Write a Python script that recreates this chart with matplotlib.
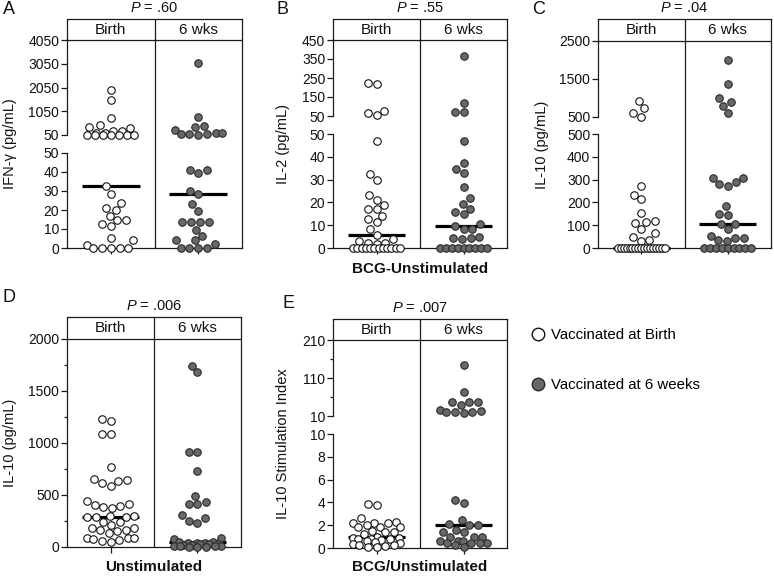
import matplotlib.pyplot as plt
from matplotlib.lines import Line2D
import numpy as np

plt.rcParams['font.family'] = ['Liberation Sans', 'DejaVu Sans']
plt.rcParams['mathtext.fontset'] = 'custom'
plt.rcParams['mathtext.it'] = 'Liberation Sans:italic'
plt.rcParams['mathtext.rm'] = 'Liberation Sans'

W, H = 774, 578
fig = plt.figure(figsize=(W / 100, H / 100), dpi=100)

groups = ['Birth', '6 wks']

# values (pg/mL or index)
a_birth = [1945, 1524, 780, 470, 390, 345, 230, 150, 130, 200, 55, 55, 55, 55, 55, 55, 55,
           32.6, 28.6, 23.7, 20.2, 20.9, 16.8, 14.6, 14.6, 11.6, 12.8, 5.1, 4.0, 1.7, 0, 0, 0, 0, 0]
a_6wk = [3100, 795, 430, 260, 370, 120, 80, 55, 100, 80, 120,
         41, 39.6, 41, 30.2, 28.6, 23, 19.5, 13.9, 13.6, 13.8, 13.9, 9.6, 6.5, 4.2, 4, 2, 0, 0, 0, 0]

b_birth = [217, 225, 67, 55, 76,
           46.9, 32.5, 29.7, 23.2, 21.2, 17.1, 17.1, 19, 14.2, 12.7, 11.3, 8.5, 5.9, 4.1, 3.2, 2, 1.8, 2,
           0, 0, 0, 0, 0, 0, 0, 0, 0, 0, 0, 0]
b_6wk = [364, 120, 73, 73,
         46.9, 37.4, 34.8, 33, 26.6, 21.8, 19.3, 17.2, 15.8, 14.8, 9.6, 10.4, 8.2, 8.2, 4.5, 4.3, 5, 3.8,
         0, 0, 0, 0, 0, 0, 0, 0, 0]

c_birth = [921, 729, 613, 510,
           272, 234, 215, 155, 120, 111, 115, 83, 64, 48, 35, 31,
           0, 0, 0, 0, 0, 0, 0, 0, 0, 0, 0, 0, 0, 0, 0, 0, 0]
c_6wk = [2008, 1360, 992, 887, 797, 597,
         308, 308, 288, 279, 272, 184, 146, 149, 107, 107, 85, 35, 45, 44, 53, 31,
         0, 0, 0, 0, 0, 0, 0, 0, 0]

d_birth = [1232, 1216, 1088, 1088, 771, 653, 643, 630, 611, 586, 447, 416, 406, 394, 387, 377,
           296, 294, 292, 290, 288, 240, 236, 210, 184, 182, 166, 160, 150, 134,
           90, 83, 83, 77, 67, 58, 51]
d_6wk = [1744, 1680, 915, 915, 726, 490, 432, 409, 409, 307, 278, 252, 230, 85, 80, 45, 45,
         40, 38, 35, 32, 30, 25, 20, 15, 12, 10, 8, 6, 4, 2, 0]

e_birth = [3.9, 3.8, 2.6, 2.3, 2.2, 2.2, 2.2, 2.0, 1.85, 1.8, 1.8, 1.45, 1.4, 1.4, 1.2, 0.95,
           0.9, 0.85, 0.8, 0.8, 0.75, 0.7, 0.6, 0.5, 0.4, 0.35, 0.3, 0.3, 0.2, 0.1, 0.05]
e_6wk = [143, 72, 47, 40, 47, 48, 22, 20, 18, 26, 20, 21,
         4.17, 3.99, 2.44, 2.1, 2.06, 2.02, 1.6, 1.41, 1.38, 1.0, 0.98, 0.95, 0.65, 0.62, 0.6,
         0.47, 0.45, 0.42, 0.45, 0.3, 0.05]

line_c = '#1a1a1a'
lw = 0.9
open_style = dict(marker='o', ms=5.4, mfc='white', mec='#111111', mew=0.8, ls='none')
fill_style = dict(marker='o', ms=5.4, mfc='#686868', mec='#2a2a2a', mew=0.8, ls='none')


def fx(px):
    return px / W


def fy(py):
    return 1 - py / H


def swarm(ys, d, lim, tie_span):
    # horizontal offsets in pixels, GraphPad-like scatter
    n = len(ys)
    xs = np.zeros(n)
    placed = []
    uniq, counts = np.unique(ys, return_counts=True)
    for u, c in zip(uniq, counts):
        if c >= 5:
            idx = np.where(ys == u)[0]
            s = min(d, 2 * tie_span / (c - 1))
            xs[idx] = (np.arange(c) - (c - 1) / 2) * s
            placed += list(idx)
    rest = [i for i in np.argsort(ys, kind='stable') if i not in placed]
    for i in rest:
        y = ys[i]
        cands = [0.0, -lim, lim]
        for j in placed:
            dy = y - ys[j]
            if abs(dy) < d:
                dx = np.sqrt(d * d - dy * dy)
                cands += [xs[j] - dx, xs[j] + dx]
        cands = sorted([c for c in cands if abs(c) <= lim + 1e-9], key=abs)

        def mind(c):
            if not placed:
                return 1e9
            return min(np.hypot(c - xs[j], y - ys[j]) for j in placed)

        best = None
        for c in cands:
            if mind(c) >= d - 1e-6:
                best = c
                break
        if best is None:
            best = max(cands, key=mind)
        xs[i] = best
        placed.append(i)
    return xs


def make_panel(spec, birth, wk6):
    x0, x1 = spec['x']
    hdr, top, bot = spec['hdr'], spec['top'], spec['bot']
    frame = fig.add_axes([fx(x0), fy(bot), fx(x1) - fx(x0), fy(hdr) - fy(bot)])
    frame.set_xlim(0, 2)
    frame.set_ylim(0, 1)
    frame.set_xticks([])
    frame.set_yticks([])
    frame.patch.set_alpha(0)
    frame.spines['left'].set_visible(False)
    for s in ['top', 'right', 'bottom']:
        frame.spines[s].set_linewidth(lw)
        frame.spines[s].set_color(line_c)
    hb = (bot - top) / (bot - hdr)
    frame.plot([0, 0], [hb, 1], color=line_c, lw=lw, clip_on=False, solid_capstyle='butt')
    frame.axhline(hb, color=line_c, lw=lw)
    frame.axvline(1, color=line_c, lw=lw)
    for k, g in enumerate(groups):
        frame.text(k + 0.5, (hb + 1) / 2, g, ha='center', va='center', fontsize=11, color='#111')

    # axis segments: (pixel top, pixel bottom, limits, ticks, minor ticks)
    segs = []
    if spec['gap'] is None:
        segs.append((top, bot) + spec['lo'])
    else:
        g0, g1 = spec['gap']
        segs.append((top, g0) + spec['hi'])
        segs.append((g1, bot) + spec['lo'])
    axes = []
    for n, (pt, pb, lim, ticks, minor) in enumerate(segs):
        ax = fig.add_axes([fx(x0), fy(pb), fx(x1) - fx(x0), fy(pt) - fy(pb)])
        ax.patch.set_alpha(0)
        ax.set_xlim(0, 2)
        ax.set_ylim(*lim)
        for s in ['top', 'right', 'bottom']:
            ax.spines[s].set_visible(False)
        ax.spines['left'].set_linewidth(lw)
        ax.spines['left'].set_color(line_c)
        ax.set_yticks(ticks)
        ax.set_yticklabels([str(t) for t in ticks])
        if minor:
            ax.set_yticks(minor, minor=True)
        ax.tick_params(axis='y', labelsize=10, length=4, width=lw, pad=1.5, colors=line_c,
                       labelcolor='#111')
        ax.tick_params(axis='y', which='minor', length=2.5, width=lw, colors=line_c)
        if n == len(segs) - 1:
            ax.set_xticks([0.5, 1.5])
            ax.set_xticklabels([])
            ax.tick_params(axis='x', length=4, width=lw, colors=line_c)
        else:
            ax.set_xticks([])
        axes.append(ax)

    brk = spec['lo'][0][1]

    def seg_ax(v):
        if len(axes) == 1 or v <= brk:
            return axes[-1]
        return axes[0]

    colw = axes[0].bbox.width / 2
    for k, (vals, style) in enumerate([(birth, open_style), (wk6, fill_style)]):
        vals = np.asarray(vals, float)
        ys = np.array([seg_ax(v).transData.transform((0, v))[1] for v in vals])
        offs = swarm(ys, 8.8, 0.27 * colw, 0.27 * colw)
        xs = k + 0.5 + offs / colw
        for ax in axes:
            sel = np.array([seg_ax(v) is ax for v in vals])
            if sel.any():
                ax.plot(xs[sel], vals[sel], clip_on=False, zorder=3, **style)
        m = np.median(vals)
        seg_ax(m).hlines(m, k + 0.5 - 0.33, k + 0.5 + 0.33, color='black', lw=2.3, zorder=2,
                         clip_on=False)

    xm = (x0 + x1) / 2
    fig.text(fx(xm), fy(hdr - 11), r'$\it{P}$ = ' + spec['p'], ha='center', va='center',
             fontsize=10.5, color='#111')
    fig.text(fx(spec['letter_xy'][0]), fy(spec['letter_xy'][1]), spec['letter'], ha='left',
             va='center', fontsize=13, color='#111')
    fig.text(fx(spec['ylab_x']), fy((top + bot) / 2), spec['ylabel'], rotation=90,
             ha='center', va='center', fontsize=10.5, color='#111')
    if spec.get('xlab'):
        fig.text(fx(xm), fy(spec['xlab_y']), spec['xlab'], ha='center', va='center',
                 fontsize=11, fontweight='bold', color='#111')


specs = [
    dict(letter='A', letter_xy=(3, 10), p='.60', ylabel='IFN-γ (pg/mL)', ylab_x=10,
         x=(67, 242), hdr=19, top=40, gap=(135, 153), bot=248,
         hi=((50, 4050), [50, 1050, 2050, 3050, 4050], None),
         lo=((0, 50), [0, 10, 20, 30, 40, 50], None)),
    dict(letter='B', letter_xy=(276, 9), p='.55', ylabel='IL-2 (pg/mL)', ylab_x=283,
         x=(333, 507), hdr=19, top=40, gap=(116, 134), bot=248,
         hi=((50, 450), [50, 150, 250, 350, 450], None),
         lo=((0, 50), [0, 10, 20, 30, 40, 50], None),
         xlab='BCG-Unstimulated', xlab_y=269),
    dict(letter='C', letter_xy=(532, 9), p='.04', ylabel='IL-10 (pg/mL)', ylab_x=542,
         x=(598, 771), hdr=19, top=41, gap=(117, 134), bot=248,
         hi=((500, 2500), [500, 1500, 2500], None),
         lo=((0, 500), [0, 100, 200, 300, 400, 500], None)),
    dict(letter='D', letter_xy=(3, 297), p='.006', ylabel='IL-10 (pg/mL)', ylab_x=10,
         x=(67, 241), hdr=317, top=339, gap=None, bot=547,
         lo=((0, 2000), [0, 500, 1000, 1500, 2000], [250, 750, 1250, 1750]),
         xlab='Unstimulated', xlab_y=567),
    dict(letter='E', letter_xy=(282, 304), p='.007', ylabel='IL-10 Stimulation Index', ylab_x=283,
         x=(333, 507), hdr=319, top=340, gap=(416, 434), bot=548,
         hi=((10, 210), [10, 110, 210], [60, 160]),
         lo=((0, 10), [0, 2, 4, 6, 8, 10], None),
         xlab='BCG/Unstimulated', xlab_y=567),
]

data = [(a_birth, a_6wk), (b_birth, b_6wk), (c_birth, c_6wk), (d_birth, d_6wk), (e_birth, e_6wk)]
for spec, (bv, wv) in zip(specs, data):
    make_panel(spec, bv, wv)

handles = [Line2D([], [], marker='o', ms=9, mfc='white', mec='#111', mew=1, ls='none'),
           Line2D([], [], marker='o', ms=9, mfc='#686868', mec='#2a2a2a', mew=1, ls='none')]
fig.legend(handles, ['Vaccinated at Birth', 'Vaccinated at 6 weeks'], loc='center left',
           bbox_to_anchor=(fx(530), fy(360)), frameon=False, fontsize=10.8, labelspacing=2.4,
           handletextpad=0.3, handlelength=1.1, borderpad=0, borderaxespad=0)

fig.savefig('out.png', dpi=100)
